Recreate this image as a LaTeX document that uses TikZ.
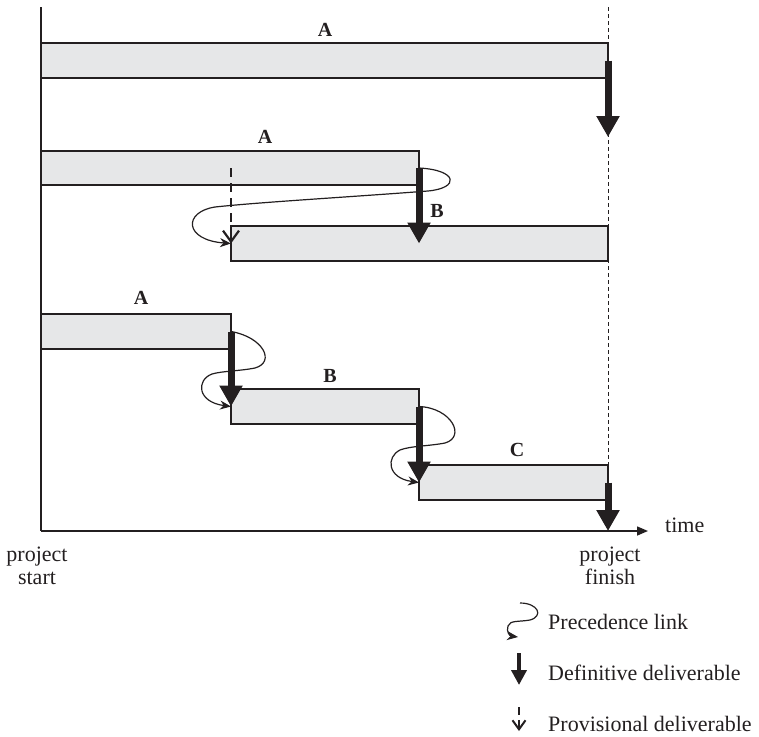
\documentclass[tikz,border=0pt]{standalone}
\usepackage{fontspec}
\setmainfont{Liberation Serif}
\usetikzlibrary{arrows.meta}
\definecolor{barfill}{RGB}{230,231,232}
\definecolor{ink}{RGB}{35,31,32}
\begin{document}
\begin{tikzpicture}[x=1pt,y=-1pt,
  bar/.style={draw=ink, line width=1.3pt, fill=barfill, anchor=north west, inner sep=0pt, outer sep=0pt},
  lbl/.style={font=\fontsize{20}{24}\selectfont\bfseries, anchor=base, inner sep=0pt, text=ink},
  txt/.style={font=\fontsize{22}{26}\selectfont, inner sep=0pt, text=ink},
  defdel/.style={draw=ink, line width=7pt, -{Triangle[length=21pt,width=22pt]}},
  provdel/.style={draw=ink, line width=2.2pt, dash pattern=on 9pt off 6pt, -{Straight Barb[length=11pt,width=16pt]}},
  prec/.style={draw=ink, line width=1.2pt, -{Stealth[length=11pt,width=9pt]}},
  axisline/.style={draw=ink, line width=1.5pt}]
\useasboundingbox (0,0) rectangle (759,736);
% axes and finish line
\coordinate (ytop) at (41,7);
\coordinate (origin) at (41,531);
\coordinate (xend) at (648,531);
\coordinate (ftop) at (608,7);
\coordinate (fbot) at (608,531);
\draw[ink, line width=0.8pt, dash pattern=on 4pt off 3pt] (ftop) -- (fbot);
\draw[axisline] (ytop) -- (origin);
\draw[axisline, -{Triangle[length=11pt,width=9pt]}] (origin) -- (xend);
% bars
\node[bar, minimum width=567pt, minimum height=35pt] (r1a) at (41,43) {};
\node[bar, minimum width=378pt, minimum height=34pt] (r2a) at (41,151) {};
\node[bar, minimum width=377pt, minimum height=35pt] (r2b) at (231,226) {};
\node[bar, minimum width=190pt, minimum height=35pt] (r3a) at (41,314) {};
\node[bar, minimum width=188pt, minimum height=35pt] (r3b) at (231,389) {};
\node[bar, minimum width=189pt, minimum height=35pt] (r3c) at (419,465) {};
% bar labels
\node[lbl] (la1) at (325,36) {A};
\node[lbl] (la2) at (265,143) {A};
\node[lbl] (lb2) at (437,217) {B};
\node[lbl] (la3) at (141,304) {A};
\node[lbl] (lb3) at (330,382) {B};
\node[lbl] (lc3) at (517,456) {C};
% precedence links
\draw[prec] (r2a.east) .. controls (458,170) and (460,188) .. (428,191)
  .. controls (350,197) and (262,202) .. (215,207)
  .. controls (183,212) and (184,240) .. (r2b.west);
\draw[prec] (r3a.east) .. controls (263,337) and (276,362) .. (255,368)
  .. controls (240,371) and (222,371) .. (212,374)
  .. controls (196,380) and (197,402) .. (r3b.west);
\draw[prec] (r3b.east) .. controls (452,408) and (466,437) .. (445,443)
  .. controls (430,446) and (410,446) .. (400,450)
  .. controls (386,457) and (387,478) .. (r3c.west);
% provisional deliverable
\draw[provdel] (r2b.west |- r2a.east) -- (r2b.west);
% definitive deliverables
\coordinate (d1end) at (608,137);
\draw[defdel] (r1a.east) -- (d1end);
\draw[defdel] (r2a.east) -- (r2a.east |- r2b.west);
\draw[defdel] (r3a.east) -- (r3b.west);
\draw[defdel] (r3b.east) -- (r3c.west);
\draw[defdel] (r3c.east) -- (r3c.east |- origin);
% axis texts
\node[txt, anchor=base west] (time) at (665,532) {time};
\node[txt, anchor=base] (ps1) at (37,561) {project};
\node[txt, anchor=base] (ps2) at (37,584) {start};
\node[txt, anchor=base] (pf1) at (610,561) {project};
\node[txt, anchor=base] (pf2) at (610,584) {finish};
% legend
\coordinate (lp1) at (520,603);
\coordinate (lp2) at (518,637);
\draw[prec] (lp1) .. controls (538,603) and (544,616) .. (530,620)
  .. controls (519,622) and (510,620) .. (508,626)
  .. controls (506,632) and (510,636) .. (lp2);
\node[txt, anchor=base west] (lt1) at (548,629) {Precedence link};
\coordinate (ld1) at (519,653);
\coordinate (ld2) at (519,685);
\draw[ink, line width=4.5pt, -{Triangle[length=15pt,width=15pt]}] (ld1) -- (ld2);
\node[txt, anchor=base west] (lt2) at (548,680) {Definitive deliverable};
\coordinate (lv1) at (519,707);
\coordinate (lv2) at (519,731);
\draw[ink, line width=2pt, dash pattern=on 8pt off 5pt, -{Straight Barb[length=9pt,width=13pt]}] (lv1) -- (lv2);
\node[txt, anchor=base west] (lt3) at (548,731) {Provisional deliverable};
\end{tikzpicture}
\end{document}
